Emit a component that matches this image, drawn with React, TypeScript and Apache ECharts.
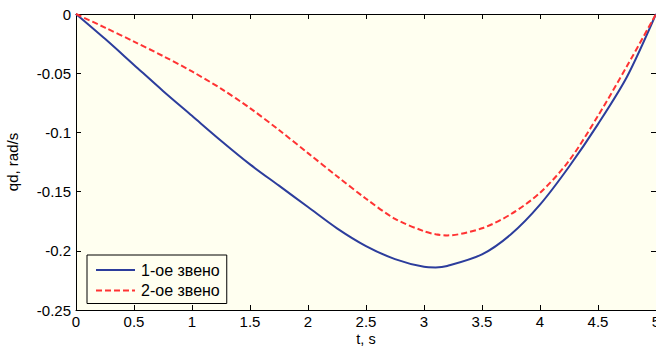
import React, { useEffect, useRef } from "react";
import * as echarts from "echarts";

const tValues = [0, 0.25, 0.5, 0.75, 1.0, 1.25, 1.5, 1.75, 2.0, 2.25, 2.5, 2.75, 3.0, 3.1, 3.2, 3.5, 3.75, 4.0, 4.25, 4.5, 4.75, 5.0];
const link1 = [0, -0.021, -0.043, -0.065, -0.086, -0.107, -0.127, -0.145, -0.163, -0.181, -0.196, -0.207, -0.2135, -0.214, -0.2128, -0.203, -0.186, -0.161, -0.129, -0.093, -0.053, 0];
const link2 = [0, -0.0115, -0.0233, -0.0355, -0.0485, -0.063, -0.0795, -0.098, -0.1175, -0.137, -0.156, -0.173, -0.1835, -0.186, -0.187, -0.181, -0.169, -0.151, -0.124, -0.086, -0.044, 0];
const seriesNames = ["1-ое звено", "2-ое звено"];
const xTickLabels = ["0", "0.5", "1", "1.5", "2", "2.5", "3", "3.5", "4", "4.5", "5"];
const yTickLabels = ["-0.25", "-0.2", "-0.15", "-0.1", "-0.05", "0"];
const xName = "t, s";
const yName = "qd, rad/s";

const FONT = "'Liberation Sans', Arial, sans-serif";

export default function App() {
  const ref = useRef<HTMLDivElement>(null);
  useEffect(() => {
    if (!ref.current) return;
    const chart = echarts.init(ref.current, undefined, { renderer: "svg" });
    const pairs = (vals: number[]) => tValues.map((t, i) => [t, vals[i]]);
    const xLabel = (v: number) => {
      const idx = Math.round(v / 0.5);
      return xTickLabels[idx] ?? "";
    };
    const yLabel = (v: number) => {
      const idx = Math.round((v + 0.25) / 0.05);
      return yTickLabels[idx] ?? "";
    };
    const axisCommon = {
      axisLine: { show: true, onZero: false, lineStyle: { color: "#000", width: 1 } },
      axisTick: { show: true, inside: true, length: 5, lineStyle: { color: "#000", width: 1 } },
      splitLine: { show: false },
    };
    chart.setOption({
      animation: false,
      backgroundColor: "#ffffff",
      grid: {
        left: 76,
        top: 14,
        width: 580,
        height: 296,
        show: true,
        backgroundColor: "#fffff0",
        borderWidth: 0,
        containLabel: false,
        outerBoundsMode: "none",
      },
      xAxis: [
        {
          type: "value",
          min: 0,
          max: 5,
          interval: 0.5,
          position: "bottom",
          name: xName,
          nameLocation: "middle",
          nameGap: 21,
          nameMoveOverlap: false,
          nameTextStyle: { color: "#000", fontSize: 14.5, fontFamily: FONT },
          axisLabel: { color: "#000", fontSize: 15, fontFamily: FONT, margin: 4, formatter: xLabel },
          ...axisCommon,
        },
        {
          type: "value",
          min: 0,
          max: 5,
          interval: 0.5,
          position: "top",
          axisLabel: { show: false },
          ...axisCommon,
        },
      ],
      yAxis: [
        {
          type: "value",
          min: -0.25,
          max: 0,
          interval: 0.05,
          position: "left",
          name: yName,
          nameLocation: "middle",
          nameGap: 56,
          nameRotate: 90,
          nameTextStyle: { color: "#000", fontSize: 15, fontFamily: FONT },
          axisLabel: { color: "#000", fontSize: 15, fontFamily: FONT, margin: 5, formatter: yLabel },
          ...axisCommon,
        },
        {
          type: "value",
          min: -0.25,
          max: 0,
          interval: 0.05,
          position: "right",
          axisLabel: { show: false },
          ...axisCommon,
        },
      ],
      legend: {
        show: true,
        orient: "vertical",
        left: 87,
        top: 255,
        padding: [7, 7, 5, 8],
        itemGap: 4.5,
        itemWidth: 39,
        itemHeight: 14,
        backgroundColor: "#fffff0",
        borderColor: "#000",
        borderWidth: 1,
        borderRadius: 0,
        itemStyle: { opacity: 0, borderWidth: 0 },
        textStyle: { color: "#000", fontSize: 16, fontFamily: FONT, padding: [0, 0, 0, 1] },
        data: seriesNames,
      },
      series: [
        {
          name: seriesNames[0],
          type: "line",
          xAxisIndex: 0,
          yAxisIndex: 0,
          data: pairs(link1),
          smooth: 0.3,
          showSymbol: false,
          symbol: "none",
          lineStyle: { color: "#2c3d9c", width: 2 },
          itemStyle: { color: "#2c3d9c" },
        },
        {
          name: seriesNames[1],
          type: "line",
          xAxisIndex: 0,
          yAxisIndex: 0,
          data: pairs(link2),
          smooth: 0.3,
          showSymbol: false,
          symbol: "none",
          lineStyle: { color: "#ff3333", width: 2, type: [6, 3] },
          itemStyle: { color: "#ff3333" },
        },
      ],
    });
    return () => chart.dispose();
  }, []);
  return <div ref={ref} style={{ position: "fixed", left: 0, top: 0, width: 656, height: 349 }} />;
}
